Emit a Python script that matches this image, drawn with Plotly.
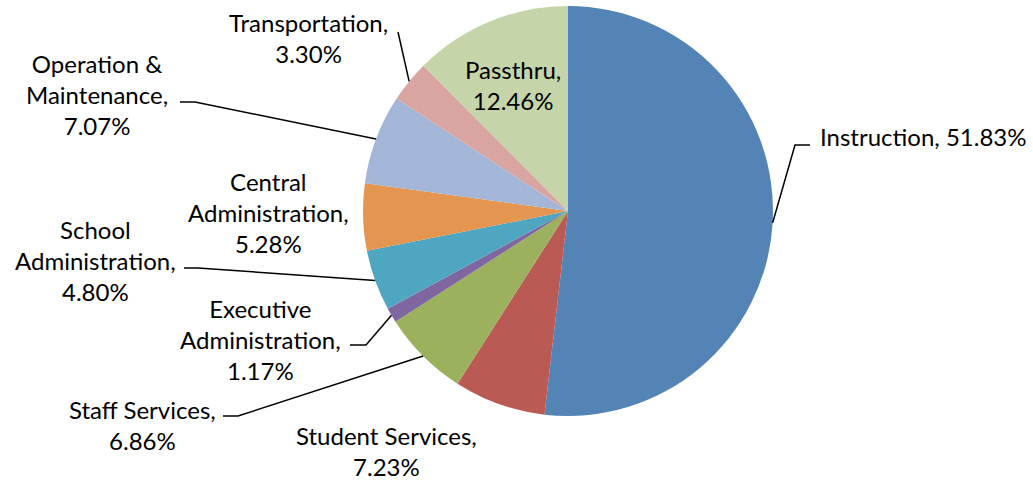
import math

import plotly.graph_objects as go

W, H = 1033, 481

categories = [
    "Instruction", "Student Services", "Staff Services", "Executive Administration",
    "School Administration", "Central Administration", "Operation & Maintenance",
    "Transportation", "Passthru",
]
shares = [51.83, 7.23, 6.86, 1.17, 4.80, 5.28, 7.07, 3.30, 12.46]
label_text = [
    "Instruction, 51.83%",
    "Student Services,<br>7.23%",
    "Staff Services,<br>6.86%",
    "Executive<br>Administration,<br>1.17%",
    "School<br>Administration,<br>4.80%",
    "Central<br>Administration,<br>5.28%",
    "Operation &<br>Maintenance,<br>7.07%",
    "Transportation,<br>3.30%",
    "Passthru,<br>12.46%",
]
colors = ["#5484B6", "#B95A55", "#9BB15E", "#8066A0", "#4EA6C0",
          "#E4954F", "#A3B6D8", "#D9A5A3", "#C6D5A9"]

# pie geometry in pixels
CX, CY, R = 568, 211, 205

# label anchor (px), anchor side, and leader elbow points (None = no leader)
label_pos = [
    (818, 137, "left"), (386, 451, "center"), (142, 425, "center"),
    (260, 339, "center"), (95, 260, "center"), (268, 212, "center"),
    (97, 94, "center"), (308, 38, "center"), (513, 85, "center"),
]
elbows = [
    [(795, 145), (810, 145)], None, [(238, 416), (223, 416)],
    [(366, 345), (350, 345)], [(198, 268), (184, 268)], None,
    [(195, 102), (180, 102)], [(398, 32)], None,
]


def px(x):
    return x / W


def py(y):
    return 1 - y / H


fig = go.Figure(go.Pie(
    labels=categories, values=shares, sort=False, direction="clockwise",
    rotation=0, marker=dict(colors=colors, line=dict(width=0)),
    textinfo="none", hoverinfo="label+percent", showlegend=False,
    domain=dict(x=[px(CX - R), px(CX + R)], y=[py(CY + R), py(CY - R)]),
))

font = dict(family="Lato, sans-serif", size=24, color="#000000")
total = sum(shares)
cum = 0.0
for name, val, txt, (lx, ly, anchor), elb in zip(categories, shares, label_text, label_pos, elbows):
    mid = (cum + val / 2) / total * 2 * math.pi
    cum += val
    fig.add_annotation(
        x=px(lx), y=py(ly), xref="paper", yref="paper", text=txt,
        showarrow=False, xanchor=anchor, yanchor="middle", align="center", font=font,
    )
    if elb:
        pts = [(CX + R * math.sin(mid), CY - R * math.cos(mid))] + elb
        path = "M " + " L ".join(f"{px(x)},{py(y)}" for x, y in pts)
        fig.add_shape(type="path", path=path, xref="paper", yref="paper",
                      line=dict(color="#000000", width=1.5))

fig.update_layout(
    width=W, height=H, margin=dict(l=0, r=0, t=0, b=0),
    paper_bgcolor="white", plot_bgcolor="white",
)
# drop the default body margin so the figure sits at the window's corner
fig.write_html("out.html", config={"displayModeBar": False},
               post_script="document.body.style.margin = '0';")
